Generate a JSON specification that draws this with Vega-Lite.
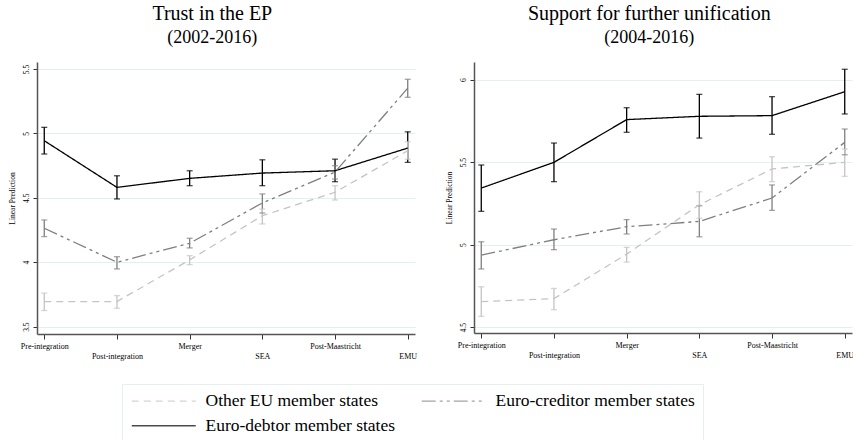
{
  "$schema": "https://vega.github.io/schema/vega-lite/v6.json",
  "background": "white",
  "padding": {"left": 8, "top": 4, "right": 3, "bottom": 3},
  "data": {"values": [
    {"panel": "trust", "period": "Pre-integration", "group": "Euro-debtor member states", "est": 4.943, "lo": 4.84, "hi": 5.047},
    {"panel": "trust", "period": "Post-integration", "group": "Euro-debtor member states", "est": 4.581, "lo": 4.491, "hi": 4.671},
    {"panel": "trust", "period": "Merger", "group": "Euro-debtor member states", "est": 4.651, "lo": 4.594, "hi": 4.71},
    {"panel": "trust", "period": "SEA", "group": "Euro-debtor member states", "est": 4.692, "lo": 4.594, "hi": 4.795},
    {"panel": "trust", "period": "Post-Maastricht", "group": "Euro-debtor member states", "est": 4.71, "lo": 4.625, "hi": 4.8},
    {"panel": "trust", "period": "EMU", "group": "Euro-debtor member states", "est": 4.886, "lo": 4.775, "hi": 5.012},
    {"panel": "trust", "period": "Pre-integration", "group": "Euro-creditor member states", "est": 4.264, "lo": 4.199, "hi": 4.328},
    {"panel": "trust", "period": "Post-integration", "group": "Euro-creditor member states", "est": 4.0, "lo": 3.948, "hi": 4.043},
    {"panel": "trust", "period": "Merger", "group": "Euro-creditor member states", "est": 4.147, "lo": 4.111, "hi": 4.186},
    {"panel": "trust", "period": "SEA", "group": "Euro-creditor member states", "est": 4.46, "lo": 4.382, "hi": 4.53},
    {"panel": "trust", "period": "Post-Maastricht", "group": "Euro-creditor member states", "est": 4.7, "lo": 4.646, "hi": 4.749},
    {"panel": "trust", "period": "EMU", "group": "Euro-creditor member states", "est": 5.351, "lo": 5.28, "hi": 5.42},
    {"panel": "trust", "period": "Pre-integration", "group": "Other EU member states", "est": 3.695, "lo": 3.625, "hi": 3.76},
    {"panel": "trust", "period": "Post-integration", "group": "Other EU member states", "est": 3.695, "lo": 3.643, "hi": 3.741},
    {"panel": "trust", "period": "Merger", "group": "Other EU member states", "est": 4.018, "lo": 3.981, "hi": 4.051},
    {"panel": "trust", "period": "SEA", "group": "Other EU member states", "est": 4.361, "lo": 4.297, "hi": 4.413},
    {"panel": "trust", "period": "Post-Maastricht", "group": "Other EU member states", "est": 4.543, "lo": 4.483, "hi": 4.594},
    {"panel": "trust", "period": "EMU", "group": "Other EU member states", "est": 4.865, "lo": 4.8, "hi": 4.935},
    {"panel": "support", "period": "Pre-integration", "group": "Euro-debtor member states", "est": 5.343, "lo": 5.202, "hi": 5.483},
    {"panel": "support", "period": "Post-integration", "group": "Euro-debtor member states", "est": 5.499, "lo": 5.382, "hi": 5.616},
    {"panel": "support", "period": "Merger", "group": "Euro-debtor member states", "est": 5.758, "lo": 5.681, "hi": 5.83},
    {"panel": "support", "period": "SEA", "group": "Euro-debtor member states", "est": 5.778, "lo": 5.646, "hi": 5.911},
    {"panel": "support", "period": "Post-Maastricht", "group": "Euro-debtor member states", "est": 5.782, "lo": 5.669, "hi": 5.897},
    {"panel": "support", "period": "EMU", "group": "Euro-debtor member states", "est": 5.927, "lo": 5.792, "hi": 6.063},
    {"panel": "support", "period": "Pre-integration", "group": "Euro-creditor member states", "est": 4.937, "lo": 4.853, "hi": 5.018},
    {"panel": "support", "period": "Post-integration", "group": "Euro-creditor member states", "est": 5.03, "lo": 4.97, "hi": 5.095},
    {"panel": "support", "period": "Merger", "group": "Euro-creditor member states", "est": 5.109, "lo": 5.065, "hi": 5.152},
    {"panel": "support", "period": "SEA", "group": "Euro-creditor member states", "est": 5.141, "lo": 5.048, "hi": 5.236},
    {"panel": "support", "period": "Post-Maastricht", "group": "Euro-creditor member states", "est": 5.283, "lo": 5.208, "hi": 5.362},
    {"panel": "support", "period": "EMU", "group": "Euro-creditor member states", "est": 5.62, "lo": 5.545, "hi": 5.701},
    {"panel": "support", "period": "Pre-integration", "group": "Other EU member states", "est": 4.655, "lo": 4.566, "hi": 4.745},
    {"panel": "support", "period": "Post-integration", "group": "Other EU member states", "est": 4.673, "lo": 4.606, "hi": 4.735},
    {"panel": "support", "period": "Merger", "group": "Other EU member states", "est": 4.943, "lo": 4.895, "hi": 4.984},
    {"panel": "support", "period": "SEA", "group": "Other EU member states", "est": 5.242, "lo": 5.16, "hi": 5.321},
    {"panel": "support", "period": "Post-Maastricht", "group": "Other EU member states", "est": 5.459, "lo": 5.382, "hi": 5.533},
    {"panel": "support", "period": "EMU", "group": "Other EU member states", "est": 5.499, "lo": 5.414, "hi": 5.58}
  ]},
  "resolve": {"scale": {"y": "independent"}},
  "spacing": 28,
  "hconcat": [
    {
      "width": 378,
      "height": 272,
      "title": {"text": "Trust in the EP", "subtitle": "(2002-2016)", "anchor": "middle", "frame": "bounds"},
      "transform": [{"filter": "datum.panel == 'trust'"}],
      "encoding": {
        "x": {"field": "period", "type": "ordinal",
              "sort": ["Pre-integration", "Post-integration", "Merger", "SEA", "Post-Maastricht", "EMU"],
              "scale": {"type": "point", "padding": 0.1}},
        "color": {"field": "group", "type": "nominal",
                  "scale": {"domain": ["Other EU member states", "Euro-creditor member states", "Euro-debtor member states"],
                            "range": ["#c4c4c4", "#7f7f7f", "#000000"]}}
      },
      "layer": [
        {"mark": {"type": "rule", "strokeWidth": 1.3},
         "encoding": {"y": {"field": "lo", "type": "quantitative", "scale": {"domain": [3.443, 5.554], "nice": false, "zero": false},
                            "axis": {"values": [3.5, 4, 4.5, 5, 5.5], "title": "Linear Prediction"}},
                      "y2": {"field": "hi"}}},
        {"mark": {"type": "tick", "size": 6, "thickness": 1.3},
         "encoding": {"y": {"field": "lo", "type": "quantitative"}}},
        {"mark": {"type": "tick", "size": 6, "thickness": 1.3},
         "encoding": {"y": {"field": "hi", "type": "quantitative"}}},
        {"mark": {"type": "line", "strokeWidth": 1.3},
         "encoding": {"y": {"field": "est", "type": "quantitative"},
                      "strokeDash": {"field": "group", "type": "nominal",
                                     "scale": {"domain": ["Other EU member states", "Euro-creditor member states", "Euro-debtor member states"],
                                               "range": [[7, 5], [14, 4, 3, 4, 3, 4], [1, 0]]}}}}
      ]
    },
    {
      "width": 378,
      "height": 271,
      "title": {"text": "Support for further unification", "subtitle": "(2004-2016)", "anchor": "middle", "frame": "bounds"},
      "transform": [{"filter": "datum.panel == 'support'"}],
      "encoding": {
        "x": {"field": "period", "type": "ordinal",
              "sort": ["Pre-integration", "Post-integration", "Merger", "SEA", "Post-Maastricht", "EMU"],
              "scale": {"type": "point", "padding": 0.1}},
        "color": {"field": "group", "type": "nominal"}
      },
      "layer": [
        {"mark": {"type": "rule", "strokeWidth": 1.3},
         "encoding": {"y": {"field": "lo", "type": "quantitative", "scale": {"domain": [4.465, 6.107], "nice": false, "zero": false},
                            "axis": {"values": [4.5, 5, 5.5, 6], "title": "Linear Prediction"}},
                      "y2": {"field": "hi"}}},
        {"mark": {"type": "tick", "size": 6, "thickness": 1.3},
         "encoding": {"y": {"field": "lo", "type": "quantitative"}}},
        {"mark": {"type": "tick", "size": 6, "thickness": 1.3},
         "encoding": {"y": {"field": "hi", "type": "quantitative"}}},
        {"mark": {"type": "line", "strokeWidth": 1.3},
         "encoding": {"y": {"field": "est", "type": "quantitative"},
                      "strokeDash": {"field": "group", "type": "nominal"}}}
      ]
    }
  ],
  "config": {
    "font": "Liberation Serif",
    "view": {"stroke": null},
    "title": {"font": "Liberation Serif", "fontSize": 20, "fontWeight": "normal", "color": "#000",
              "subtitleFont": "Liberation Serif", "subtitleFontSize": 18, "subtitleColor": "#000", "subtitlePadding": 5, "offset": 15},
    "axisX": {"title": null, "labelAngle": 0, "labelFont": "Liberation Serif", "labelFontSize": 8, "labelColor": "#000",
              "labelExpr": "indexof(['Post-integration','SEA','EMU'], datum.value) >= 0 ? ['', datum.label] : datum.label",
              "labelLineHeight": 10, "labelOverlap": false, "labelFlush": false, "labelPadding": 3,
              "tickSize": 5, "tickColor": "#333", "domainColor": "#555", "domainWidth": 1.5, "grid": false},
    "axisY": {"labelAngle": 270, "labelFont": "Liberation Serif", "labelFontSize": 7.5, "labelColor": "#000", "format": "~g",
              "titleFont": "Liberation Serif", "titleFontSize": 7.5, "titleFontWeight": "normal", "titleColor": "#000", "titlePadding": 6,
              "tickSize": 4, "tickColor": "#333", "domainColor": "#555", "domainWidth": 1.5,
              "grid": true, "gridColor": "#e4eff0", "gridWidth": 1, "labelPadding": 3},
    "legend": {"orient": "none", "direction": "horizontal", "legendX": 85, "legendY": 322, "title": null, "columns": 2, "columnPadding": 23, "rowPadding": 6,
               "labelFont": "Liberation Serif", "labelFontSize": 17.5, "labelColor": "#000", "labelOffset": 58,
               "symbolType": "M-3.5,0H28.5", "symbolSize": 16, "symbolStrokeWidth": 1.3,
               "strokeColor": "#e6eeee", "fillColor": "white", "padding": 8, "labelLimit": 400}
  }
}
